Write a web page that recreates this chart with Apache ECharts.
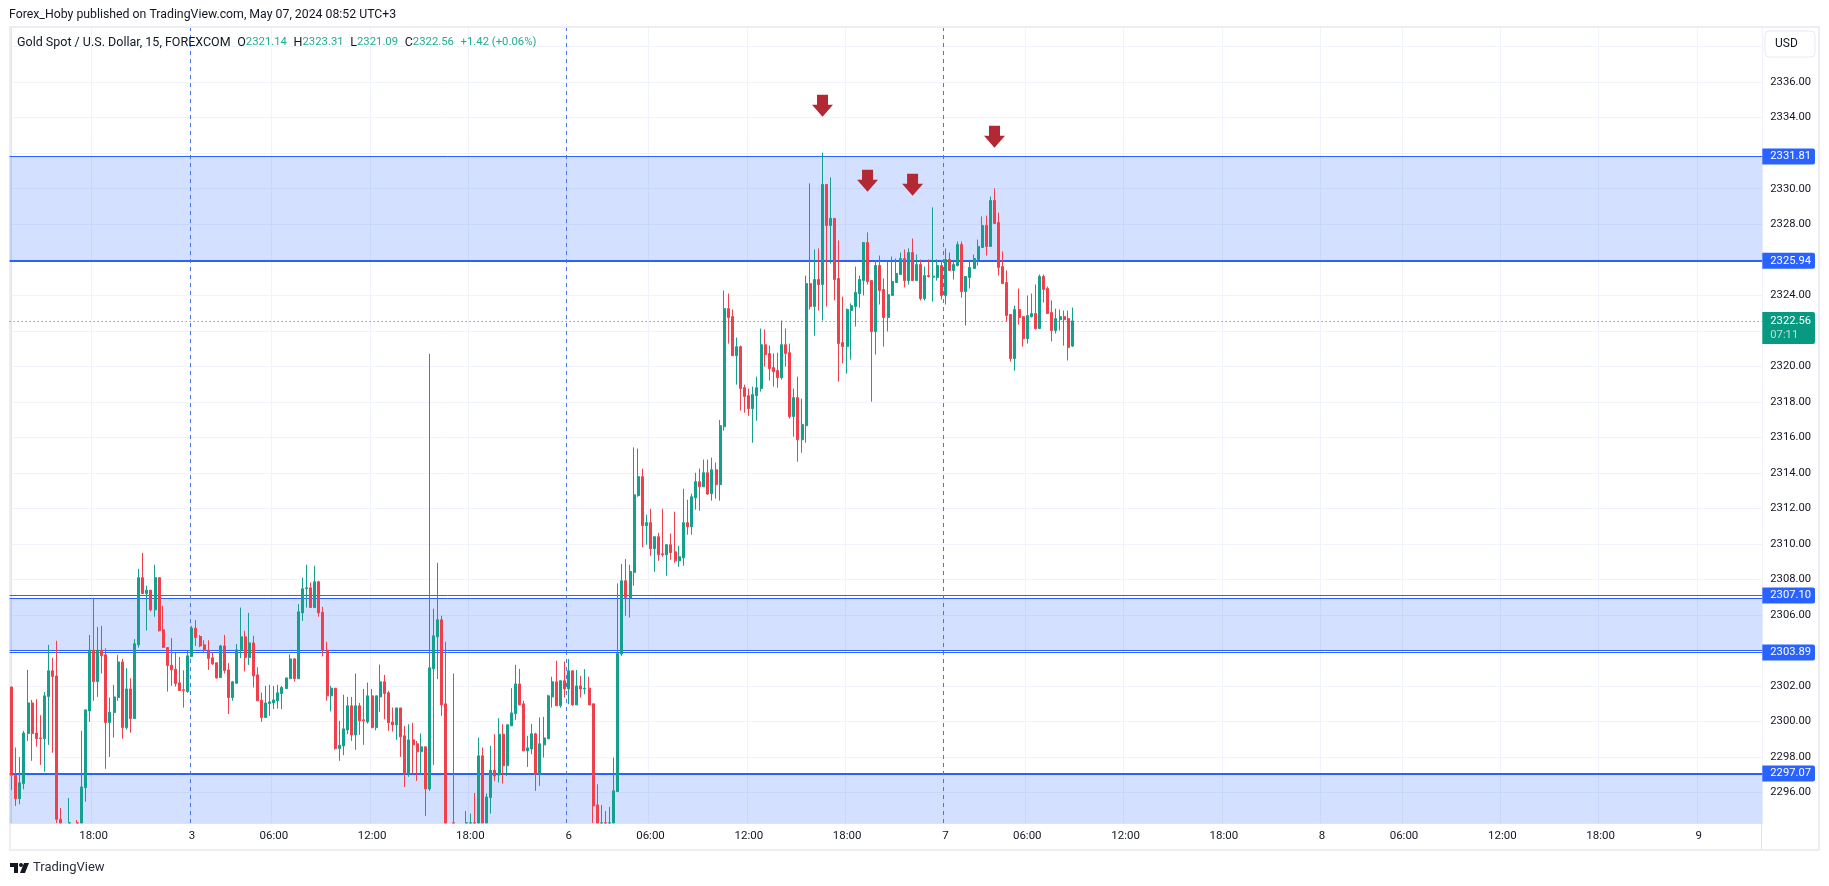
<!DOCTYPE html>
<html>
<head>
<meta charset="utf-8">
<title>Gold Spot / U.S. Dollar</title>
<script src="https://cdn.jsdelivr.net/npm/echarts@6/dist/echarts.min.js"></script>
<style>
html, body { margin: 0; padding: 0; background: #fff; }
#chart { width: 1829px; height: 886px; }
</style>
</head>
<body>
<div id="chart"></div>
<script>
// 15 min candles, one row per bar: open, close, low, high
let barsMay2 = [
[2301.95,2296.98,2296.15,2301.95],[2296.98,2295.66,2295.25,2298.54],[2295.66,2296.55,2295.34,2298.01],[2296.51,2299.36,2296.19,2299.48],
[2299.33,2301.05,2298.91,2302.91],[2301.05,2299.33,2297.79,2301.22],[2299.36,2299.04,2298.59,2301.26],[2299.08,2299.04,2297.56,2300.36],
[2299.04,2301.45,2297.18,2301.67],[2301.41,2302.86,2298.69,2304.32],[2302.86,2302.54,2298.24,2303.59],[2302.57,2294.50,2293.60,2304.55],
[2294.50,2293.50,2293.00,2295.14],[2293.60,2293.20,2292.80,2294.00],[2292.60,2293.80,2292.30,2295.70],[2292.80,2293.60,2292.50,2294.00],
[2293.90,2293.00,2292.80,2294.46],[2293.00,2296.32,2292.90,2299.48],[2296.28,2300.66,2295.49,2300.66],[2300.60,2304.02,2299.98,2304.88],
[2304.02,2302.25,2301.17,2306.97],[2302.25,2304.02,2301.39,2305.33],[2304.02,2303.70,2302.71,2305.39],[2303.76,2299.95,2297.34,2304.13],
[2299.95,2300.53,2298.01,2301.35],[2300.51,2301.39,2299.10,2302.07],[2301.35,2303.36,2301.17,2303.76],[2303.36,2299.66,2299.04,2303.53],
[2299.66,2301.84,2299.55,2303.00],[2301.84,2300.17,2299.38,2302.44],[2300.17,2304.38,2300.17,2304.64],[2304.32,2308.10,2304.17,2308.60],
[2308.10,2307.21,2307.21,2309.50],[2307.21,2307.40,2305.13,2307.65],[2307.40,2306.29,2306.20,2307.40],[2306.29,2308.10,2305.90,2308.83],
[2308.10,2305.11,2305.07,2308.10],[2305.17,2304.17,2304.17,2306.52],[2304.17,2303.16,2301.69,2304.17],[2303.17,2302.91,2302.01,2304.70],
[2302.95,2302.14,2301.97,2303.87],[2302.18,2301.75,2301.73,2303.64],[2301.79,2301.75,2300.79,2302.89],[2301.69,2303.70,2301.63,2303.98]
];
let barsMay3 = [
[2303.66,2305.26,2303.66,2305.39],[2305.26,2304.73,2304.26,2305.71],[2304.79,2304.26,2304.19,2304.87],[2304.32,2304.02,2303.89,2304.58],
[2304.02,2303.55,2302.91,2304.58],[2303.59,2303.25,2303.19,2303.89],[2303.31,2302.46,2302.42,2303.31],[2302.48,2304.26,2302.46,2304.32],
[2304.26,2302.87,2302.71,2304.88],[2302.91,2301.35,2300.43,2303.29],[2301.35,2302.24,2301.17,2302.29],[2302.16,2304.04,2302.12,2304.36],
[2304.04,2304.77,2303.57,2306.42],[2304.77,2303.61,2302.82,2305.11],[2303.61,2304.43,2303.19,2306.12],[2304.43,2302.57,2301.92,2304.83],
[2302.63,2301.17,2301.17,2303.06],[2301.20,2300.23,2299.98,2301.63],[2300.23,2301.05,2300.23,2302.01],[2301.02,2301.11,2300.32,2302.07],
[2301.05,2301.22,2300.70,2302.01],[2301.17,2301.62,2300.73,2302.07],[2301.58,2301.92,2300.70,2302.01],[2301.86,2302.46,2301.86,2302.46],
[2302.42,2303.53,2302.39,2303.79],[2303.53,2302.42,2302.25,2303.57],[2302.41,2306.18,2302.41,2306.61],[2306.12,2307.48,2305.67,2308.10],
[2307.48,2307.53,2306.42,2308.83],[2307.53,2306.42,2306.42,2307.83],[2306.42,2307.87,2306.42,2308.77],[2307.87,2306.12,2305.90,2307.93],
[2306.16,2304.02,2303.67,2306.46],[2304.02,2301.45,2301.17,2304.49],[2301.45,2301.88,2300.57,2302.01],[2301.88,2298.48,2298.41,2301.88],
[2298.48,2298.67,2297.79,2300.04],[2298.63,2299.59,2298.11,2301.51],[2299.53,2300.89,2299.29,2301.39],[2300.89,2299.25,2298.91,2301.39],
[2299.25,2300.89,2298.41,2302.71],[2300.89,2300.04,2299.25,2301.05],[2300.10,2300.04,2298.69,2301.84],[2299.98,2301.45,2299.89,2302.20],
[2301.45,2299.66,2299.63,2301.84],[2299.66,2301.45,2299.51,2301.45],[2301.39,2302.24,2300.55,2303.21],[2302.24,2301.58,2300.13,2302.63],
[2301.62,2299.93,2299.48,2301.73],[2299.98,2299.81,2299.44,2300.79],[2299.81,2300.77,2298.97,2300.77],[2300.77,2299.14,2298.01,2300.77],
[2299.20,2297.11,2296.32,2299.76],[2297.11,2298.97,2296.89,2299.85],[2298.97,2298.69,2297.11,2299.93],[2298.75,2298.30,2296.66,2298.91],
[2298.30,2298.58,2297.04,2299.33],[2298.58,2296.21,2294.69,2298.58],[2296.21,2303.03,2296.10,2320.70],[2302.97,2304.83,2297.56,2306.35],
[2304.77,2305.73,2302.39,2308.94],[2305.73,2300.94,2300.32,2305.96],[2301.00,2293.50,2293.00,2304.49],[2293.70,2293.20,2292.90,2294.00],
[2294.00,2293.00,2292.50,2302.71],[2293.60,2293.10,2292.80,2294.00],[2293.20,2293.60,2292.90,2294.00],[2293.00,2293.90,2292.70,2294.97],
[2293.10,2293.90,2292.70,2294.82],[2294.00,2293.20,2293.00,2295.98],[2293.30,2298.07,2293.00,2299.10],[2298.07,2293.50,2293.00,2298.54],
[2293.70,2295.76,2293.40,2295.95],[2295.72,2297.26,2294.82,2298.63],[2297.26,2296.94,2296.66,2299.29],[2297.00,2299.29,2296.57,2300.19],
[2299.29,2297.51,2296.51,2299.85],[2297.51,2299.82,2296.94,2299.82],[2299.76,2300.49,2299.76,2301.88],[2300.45,2302.12,2300.10,2303.20],
[2302.12,2300.94,2300.94,2302.97],[2301.00,2298.35,2298.35,2301.17],[2298.35,2298.52,2297.45,2299.20],[2298.46,2299.31,2298.16,2299.87],
[2299.31,2297.04,2296.10,2299.37],[2297.04,2298.75,2296.38,2300.23],[2298.69,2299.08,2297.97,2300.27],[2299.03,2301.45,2299.03,2301.51],
[2301.39,2302.24,2300.79,2302.52],[2302.24,2300.89,2300.89,2303.42],[2300.89,2302.30,2300.79,2302.30],[2302.30,2301.84,2301.36,2303.38]
];
let barsMay6 = [
[2301.84,2302.86,2300.98,2303.52],[2302.86,2300.94,2300.89,2302.86],[2300.94,2302.01,2300.94,2302.90],[2302.01,2301.84,2301.36,2302.58],
[2301.84,2301.88,2301.54,2302.95],[2301.88,2300.94,2300.94,2302.52],[2301.00,2295.25,2294.22,2301.00],[2295.31,2293.50,2293.00,2296.47],
[2293.20,2293.90,2293.00,2295.31],[2293.90,2293.20,2293.00,2294.97],[2293.30,2294.00,2293.00,2295.20],[2293.50,2296.10,2293.20,2297.97],
[2296.06,2303.84,2296.06,2307.78],[2303.80,2307.93,2303.70,2308.87],[2307.93,2306.99,2305.96,2309.15],[2306.95,2308.45,2305.86,2308.83],
[2308.40,2312.77,2307.65,2315.44],[2312.72,2313.79,2312.66,2315.37],[2313.79,2311.03,2309.81,2314.24],[2311.03,2311.20,2309.96,2311.65],
[2311.20,2309.73,2309.34,2311.98],[2309.73,2310.41,2308.44,2310.41],[2310.41,2309.39,2309.05,2310.63],[2309.45,2309.39,2309.28,2311.98],
[2309.39,2309.96,2308.21,2309.96],[2309.96,2309.51,2309.11,2310.58],[2309.56,2309.05,2308.94,2311.82],[2309.05,2309.28,2308.72,2309.90],
[2309.22,2311.20,2308.77,2313.11],[2311.20,2310.97,2310.52,2312.49],[2310.97,2312.66,2310.52,2312.83],[2312.60,2313.51,2311.93,2314.01],
[2313.51,2313.22,2311.87,2314.24],[2313.22,2314.01,2313.22,2314.75],[2314.01,2312.81,2312.77,2314.75],[2312.83,2314.18,2312.44,2314.86],
[2314.18,2313.34,2312.55,2314.58],[2313.34,2316.66,2312.44,2316.98],[2316.60,2323.25,2316.38,2324.27],[2323.25,2322.75,2321.28,2324.10],
[2322.80,2320.60,2320.60,2323.20],[2320.60,2321.11,2318.97,2321.62],[2321.11,2318.75,2317.51,2321.17],[2318.80,2318.30,2317.39,2318.97],
[2318.35,2317.62,2317.22,2318.75],[2317.62,2318.41,2315.70,2318.86],[2318.35,2318.80,2316.94,2319.42],[2318.75,2321.22,2318.58,2322.13],
[2321.22,2320.66,2319.98,2322.07],[2320.72,2319.87,2319.20,2321.17],[2319.93,2319.70,2318.86,2320.72],[2319.76,2319.36,2318.80,2320.77],
[2319.36,2321.22,2319.25,2322.58],[2321.22,2320.72,2319.98,2322.13],[2320.77,2317.17,2317.06,2321.28],[2317.17,2318.24,2316.04,2318.75],
[2318.24,2315.87,2314.63,2319.42],[2315.87,2316.72,2315.14,2318.18],[2316.66,2324.66,2315.70,2325.11],[2324.66,2323.37,2323.20,2330.30],
[2323.37,2324.89,2321.73,2326.58],[2324.89,2324.61,2323.14,2326.64],[2324.61,2330.24,2322.58,2332.04],[2330.24,2327.93,2323.37,2330.24],
[2327.93,2328.33,2325.79,2330.64],[2328.33,2324.89,2323.71,2328.33],[2324.95,2321.28,2319.14,2327.09],[2321.34,2321.11,2320.16,2323.93],
[2321.11,2323.20,2319.59,2323.26],[2323.14,2323.42,2320.38,2323.54],[2323.37,2324.16,2322.24,2325.62],[2324.10,2324.89,2323.31,2325.11],
[2324.83,2326.97,2323.99,2326.97],[2326.97,2324.78,2324.61,2327.54],[2324.83,2321.96,2318.01,2324.83],[2321.96,2325.68,2320.66,2325.96],
[2325.68,2324.27,2323.48,2326.24],[2324.33,2322.75,2321.11,2324.94],[2322.75,2324.04,2321.96,2325.90],[2323.99,2324.78,2323.99,2326.18],
[2324.72,2325.23,2324.72,2326.07],[2325.17,2326.07,2325.17,2326.41],[2326.07,2324.83,2324.44,2326.58],[2324.83,2326.41,2324.61,2326.64],
[2326.41,2324.83,2324.83,2327.20],[2324.83,2325.73,2324.83,2326.30],[2325.73,2323.82,2323.71,2326.02],[2323.82,2325.11,2323.71,2325.62],
[2325.11,2325.06,2325.00,2326.02],[2325.02,2325.08,2323.65,2328.95],[2325.00,2325.68,2324.83,2326.02],[2325.68,2323.99,2323.76,2325.96]
];
let barsMay7 = [
[2323.99,2326.02,2323.48,2326.64],[2326.02,2325.40,2325.40,2326.41],[2325.40,2325.73,2324.89,2325.96],[2325.68,2326.86,2325.62,2327.03],
[2326.86,2324.21,2323.87,2327.03],[2324.21,2325.06,2322.30,2325.06],[2325.00,2325.57,2324.38,2325.96],[2325.51,2326.07,2325.51,2326.30],
[2326.02,2326.75,2325.68,2327.14],[2326.69,2327.93,2326.69,2328.44],[2327.93,2326.75,2326.24,2328.49],[2326.75,2329.34,2326.75,2329.56],
[2329.34,2328.04,2328.04,2330.02],[2328.10,2325.57,2325.11,2328.66],[2325.62,2324.66,2324.66,2326.47],[2324.72,2322.86,2322.52,2325.40],
[2322.92,2320.44,2320.27,2322.92],[2320.44,2323.20,2319.76,2323.42],[2323.20,2322.75,2322.35,2324.38],[2322.80,2321.56,2321.11,2322.80],
[2321.56,2322.86,2321.28,2323.99],[2322.80,2322.97,2322.75,2324.10],[2322.97,2322.13,2322.07,2324.61],[2322.13,2325.06,2322.13,2325.17],
[2325.06,2324.33,2323.59,2325.17],[2324.38,2322.97,2322.97,2324.49],[2323.03,2322.02,2321.40,2323.71],[2322.02,2322.69,2321.85,2323.25],
[2322.63,2322.80,2322.02,2323.20],[2322.80,2322.63,2321.17,2323.14],[2322.69,2321.06,2320.33,2323.14],[2321.14,2322.56,2321.09,2323.31]
];

// time scale, the empty part on the right is future bars
let barCount = 428;
let tickIndexes = [20, 44, 64, 88, 112, 136, 156, 180, 204, 228, 248, 272, 296, 320, 340, 364, 388, 412];
let tickLabels = ["18:00", "3", "06:00", "12:00", "18:00", "6", "06:00", "12:00", "18:00", "7", "06:00", "12:00", "18:00", "8", "06:00", "12:00", "18:00", "9"];

// grid lines on every tick, labels only where no price tag covers them
let priceTicks = [2296, 2298, 2300, 2302, 2304, 2306, 2308, 2310, 2312, 2314, 2316, 2318, 2320, 2322, 2324, 2326, 2328, 2330, 2332, 2334, 2336, 2338];
let priceLabels = [2296, 2298, 2300, 2302, 2306, 2308, 2310, 2312, 2314, 2316, 2318, 2320, 2324, 2328, 2330, 2334, 2336];
let priceMin = 2294.29;
let priceMax = 2339.05;

// zones and their border lines
let zones = [[2325.94, 2331.81], [2304.03, 2306.93], [priceMin, 2297.07]];
let thinLines = [2331.81, 2307.10, 2306.93, 2304.03, 2303.89];
let thickLines = [2325.94, 2297.07];
let priceTags = [2331.81, 2325.94, 2307.10, 2303.89, 2297.07];
let lastPrice = 2322.56;
let countdown = "07:11";

// dashed session lines sit between two bars
let sessionLines = [43.5, 135.5, 227.5];

// the four red arrows: bar index and price
let arrowBars = [198, 209, 220, 240];
let arrowPrices = [2334.67, 2330.45, 2330.22, 2332.93];

let legendOhlc = { O: "2321.14", H: "2323.31", L: "2321.09", C: "2322.56" };
let legendChange = "+1.42 (+0.06%)";

let upColor = "#14a08c";
let downColor = "#f23f4c";
let blue = "#2962ff";
let fontName = "Roboto, 'Noto Sans', sans-serif";
let textColor = "#131722";

// candlestick clip only drops whole bars, so cut the ones running under the pane by hand
function cutBar(bar) {
	let up = bar[1] >= bar[0];
	if (bar[3] <= priceMin) {
		return ["-", "-", "-", "-"];
	}
	let o = Math.max(bar[0], priceMin + (up ? 0 : 0.01));
	let c = Math.max(bar[1], priceMin + (up ? 0.01 : 0));
	return [o, c, Math.max(bar[2], priceMin), bar[3]];
}
let candles = barsMay2.concat(barsMay3, barsMay6, barsMay7).map(cutBar);

let categories = [];
for (let i = 0; i < barCount; i++) {
	let at = tickIndexes.indexOf(i);
	categories.push(at >= 0 ? tickLabels[at] : "");
}
let isTick = function(i) {
	return tickIndexes.indexOf(i) >= 0;
};

function tagLabel(v) {
	if (priceTags.indexOf(v) < 0) {
		return { show: false };
	}
	return {
		show: true, position: "end", distance: 0, formatter: v.toFixed(2),
		color: "#fff", backgroundColor: blue, borderRadius: [0, 2, 2, 0],
		padding: [3, 4, 2, 8], fontSize: 11.2, fontFamily: fontName
	};
}

let lineData = [];
thinLines.forEach(function(v) {
	lineData.push({ yAxis: v, lineStyle: { width: 1, color: blue, type: "solid" }, label: tagLabel(v) });
});
thickLines.forEach(function(v) {
	lineData.push({ yAxis: v, lineStyle: { width: 2, color: blue, type: "solid" }, label: tagLabel(v) });
});
lineData.push({
	yAxis: lastPrice,
	lineStyle: { width: 1, color: "#089981", type: [1, 3] },
	label: {
		show: true, position: "end", distance: 0, offset: [0, 7],
		formatter: "{p|" + lastPrice.toFixed(2) + "}\n{t|" + countdown + "}",
		backgroundColor: "#089981", borderRadius: [0, 2, 2, 0], padding: [2, 4, 2, 8],
		rich: {
			p: { color: "#fff", fontSize: 11.2, fontFamily: fontName, lineHeight: 14 },
			t: { color: "#b5e2d9", fontSize: 11.2, fontFamily: fontName, lineHeight: 14 }
		}
	}
});

let legendRich = {
	k: { color: textColor, fontSize: 12.5, fontFamily: fontName },
	v: { color: "#22ab94", fontSize: 11.3, fontFamily: fontName }
};
let legendText = "{k|Gold Spot / U.S. Dollar, 15, FOREXCOM}  ";
Object.keys(legendOhlc).forEach(function(k) {
	legendText += "{k|" + k + "}{v|" + legendOhlc[k] + "}  ";
});
legendText += "{v|" + legendChange + "}";

let chart = echarts.init(document.getElementById("chart"));
chart.setOption({
	animation: false,
	backgroundColor: "#fff",
	title: [
		{ text: "Forex_Hoby published on TradingView.com, May 07, 2024 08:52 UTC+3", left: 9, top: 9, padding: 0, textStyle: { color: textColor, fontSize: 12.3, fontWeight: "normal", fontFamily: fontName } },
		{ text: legendText, left: 17, top: 36, padding: 0, textStyle: { rich: legendRich, fontWeight: "normal", fontSize: 12 } }
	],
	grid: { left: 9.65, top: 28, width: 1752.66, height: 795, containLabel: false },
	xAxis: [
		{
			type: "category",
			data: categories,
			boundaryGap: true,
			axisLine: { show: true, onZero: false, lineStyle: { color: "#e0e3eb" } },
			axisTick: { show: false },
			axisLabel: { interval: isTick, color: textColor, fontSize: 11.5, fontFamily: fontName, margin: 7 },
			splitLine: { show: true, interval: isTick, lineStyle: { color: "#f0f3fa", width: 1 } }
		},
		{ type: "value", show: false, min: -0.5, max: barCount - 0.5 }
	],
	yAxis: {
		type: "value",
		position: "right",
		min: priceMin,
		max: priceMax,
		axisLine: { show: true, lineStyle: { color: "#e0e3eb" } },
		axisTick: { show: false, customValues: priceTicks },
		axisLabel: {
			customValues: priceLabels, color: textColor, fontSize: 11.2, fontFamily: fontName, margin: 8,
			padding: [2, 0, 0, 0],
			formatter: function(v) { return v.toFixed(2); }
		},
		splitLine: { show: true, lineStyle: { color: "#f0f3fa", width: 1 } }
	},
	series: [
		{
			name: "levels",
			type: "line",
			xAxisIndex: 0,
			data: [],
			z: 1,
			markArea: {
				silent: true,
				z: 1,
				itemStyle: { color: "rgba(41,98,255,0.2)" },
				data: zones.map(function(z) { return [{ yAxis: z[0] }, { yAxis: z[1] }]; })
			},
			markLine: { silent: true, z: 1, symbol: "none", data: lineData }
		},
		{
			name: "sessions",
			type: "line",
			xAxisIndex: 1,
			data: [],
			z: 2,
			markLine: {
				silent: true, z: 2, symbol: "none", label: { show: false },
				lineStyle: { color: "#4a78e0", type: [4, 4], width: 1 },
				data: sessionLines.map(function(v) { return { xAxis: v }; })
			}
		},
		{
			name: "XAUUSD",
			type: "candlestick",
			xAxisIndex: 0,
			z: 3,
			barWidth: 2.5,
			clip: true,
			data: candles,
			itemStyle: { color: upColor, color0: downColor, borderColor: upColor, borderColor0: downColor, borderWidth: 1 }
		},
		{
			name: "arrows",
			type: "scatter",
			xAxisIndex: 0,
			z: 4,
			symbol: "path://M5 0H16V10H21L10.5 22L0 10H5Z",
			symbolSize: [21, 22],
			itemStyle: { color: "#b22833", opacity: 1 },
			data: arrowBars.map(function(b, i) { return [b, arrowPrices[i]]; })
		}
	],
	graphic: [
		{ type: "rect", shape: { x: 10, y: 27, width: 1809, height: 823 }, style: { fill: "none", stroke: "#eceef3", lineWidth: 2 }, silent: true, z: 0 },
		{ type: "line", shape: { x1: 1761.5, y1: 823, x2: 1761.5, y2: 850 }, style: { stroke: "#e0e3eb", lineWidth: 1 }, silent: true },
		{ type: "rect", shape: { x: 1765, y: 31, width: 50, height: 26, r: 4 }, style: { fill: "#fff", stroke: "#e8eaf0", lineWidth: 1 }, silent: true },
		{ type: "text", x: 1775, y: 38, style: { text: "USD", fill: textColor, fontSize: 12, fontFamily: fontName }, silent: true },
		{
			type: "group", x: 10, y: 863, silent: true,
			children: [
				{ type: "polygon", shape: { points: [[0, 0], [8, 0], [8, 10], [4, 10], [4, 4], [0, 4]] }, style: { fill: textColor } },
				{ type: "circle", shape: { cx: 11, cy: 2, r: 2 }, style: { fill: textColor } },
				{ type: "polygon", shape: { points: [[14, 0], [19, 0], [15, 10], [10, 10]] }, style: { fill: textColor } }
			]
		},
		{ type: "text", x: 33, y: 861, style: { text: "TradingView", fill: "#2a2e39", fontSize: 13, fontFamily: fontName }, silent: true }
	]
});
</script>
</body>
</html>
